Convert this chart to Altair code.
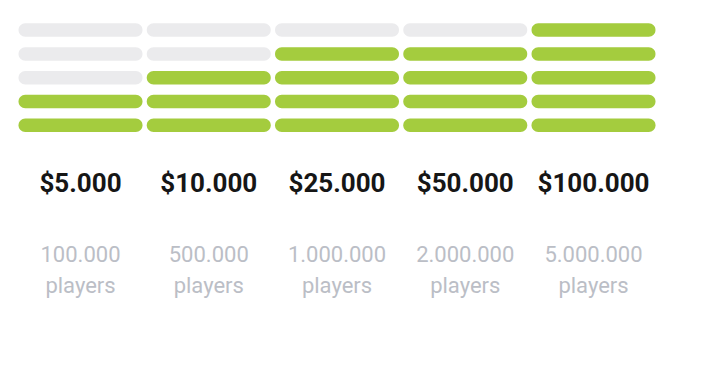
import altair as alt
import pandas as pd

prices = ["$5.000", "$10.000", "$25.000", "$50.000", "$100.000"]
players = ["100.000", "500.000", "1.000.000", "2.000.000", "5.000.000"]
levels = [2, 3, 4, 4, 5]
n_rows = 5

GREEN = "#a4cc3e"
GREY = "#ebebed"

rows = []
for i, (p, lv) in enumerate(zip(prices, levels)):
    for r in range(1, n_rows + 1):
        rows.append({"col": i, "row": r, "filled": "yes" if r <= lv else "no"})
bars = pd.DataFrame(rows)
bars["x0"] = bars["col"] + 0.0
bars["x1"] = bars["col"] + 0.967
bars["y0"] = bars["row"] - 0.284
bars["y1"] = bars["row"] + 0.284

labels = pd.DataFrame({"col": range(len(prices)), "price": prices, "players": players})
labels["xc"] = labels["col"] + 0.4835
labels["sub"] = "players"

W, H = 695, 352
xscale = alt.Scale(domain=[-10.5 / 128.25, (W - 10.5) / 128.25], nice=False, zero=False)
yscale = alt.Scale(domain=[-8.861, 5.929], nice=False, zero=False)

bar_layer = alt.Chart(bars).mark_bar(cornerRadius=6.75).encode(
    x=alt.X("x0:Q", scale=xscale, axis=None),
    x2="x1:Q",
    y=alt.Y("y0:Q", scale=yscale, axis=None),
    y2="y1:Q",
    color=alt.Color("filled:N", scale=alt.Scale(domain=["yes", "no"], range=[GREEN, GREY]), legend=None),
)

price_layer = alt.Chart(labels).mark_text(
    font="Roboto", fontWeight="bold", fontSize=26, color="#161616", baseline="alphabetic", align="center"
).encode(
    x=alt.X("xc:Q", scale=xscale, axis=None),
    y=alt.value(184),
    text="price:N",
)

players_layer = alt.Chart(labels).mark_text(
    font="Roboto", fontSize=22, color="#bbbec6", baseline="alphabetic", align="center"
).encode(
    x=alt.X("xc:Q", scale=xscale, axis=None),
    y=alt.value(254),
    text="players:N",
)

sub_layer = alt.Chart(labels).mark_text(
    font="Roboto", fontSize=22, color="#bbbec6", baseline="alphabetic", align="center"
).encode(
    x=alt.X("xc:Q", scale=xscale, axis=None),
    y=alt.value(285),
    text="sub:N",
)

chart = alt.layer(bar_layer, price_layer, players_layer, sub_layer).properties(
    width=W, height=H, padding=0,
    autosize=alt.AutoSizeParams(type="fit", contains="padding"),
    background="white",
).configure_view(stroke=None)

chart.save("out.html", embed_options={"renderer": "svg", "actions": False})
